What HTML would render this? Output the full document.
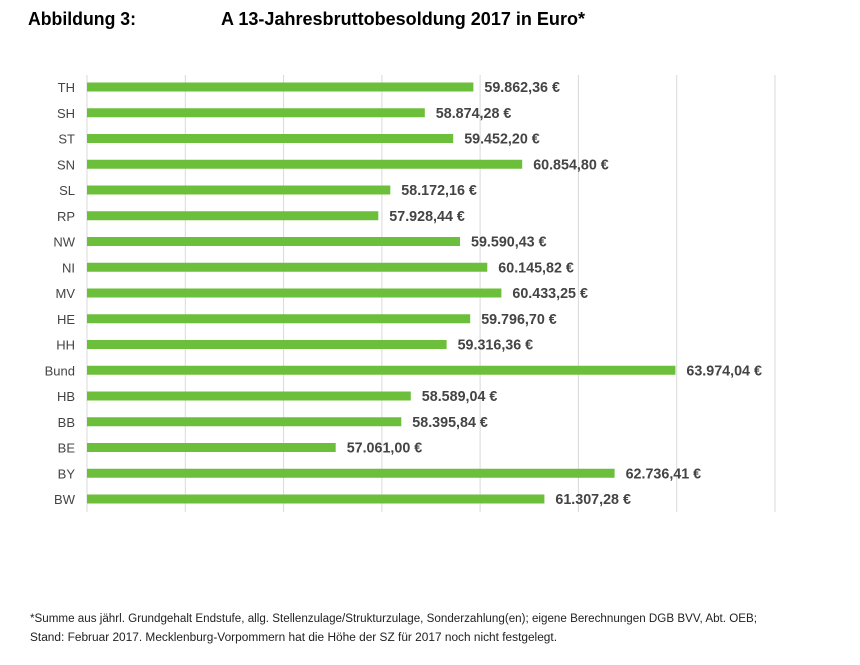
<!DOCTYPE html>
<html><head><meta charset="utf-8"><style>
body{margin:0;background:#fff;width:860px;height:660px;overflow:hidden;font-family:"Liberation Sans",sans-serif}
</style></head><body>
<svg width="860" height="660" xmlns="http://www.w3.org/2000/svg" font-family="Liberation Sans, sans-serif">
<text x="28" y="25" font-size="18" font-weight="bold" fill="#000" textLength="108" lengthAdjust="spacingAndGlyphs">Abbildung 3:</text>
<text x="221" y="25" font-size="18" font-weight="bold" fill="#000" textLength="364" lengthAdjust="spacingAndGlyphs">A 13-Jahresbruttobesoldung 2017 in Euro*</text>
<g stroke="#d9d9d9" stroke-width="1">
<line x1="87" y1="75" x2="87" y2="512"/><line x1="185.3" y1="75" x2="185.3" y2="512"/><line x1="283.6" y1="75" x2="283.6" y2="512"/><line x1="381.9" y1="75" x2="381.9" y2="512"/><line x1="480.1" y1="75" x2="480.1" y2="512"/><line x1="578.4" y1="75" x2="578.4" y2="512"/><line x1="676.7" y1="75" x2="676.7" y2="512"/><line x1="775" y1="75" x2="775" y2="512"/>
</g>
<g fill="#6cbf3a" id="bars"></g>
<g id="labels"></g>
<text x="30" y="622" font-size="11.5" fill="#222" textLength="727" lengthAdjust="spacingAndGlyphs">*Summe aus jährl. Grundgehalt Endstufe, allg. Stellenzulage/Strukturzulage, Sonderzahlung(en); eigene Berechnungen DGB BVV, Abt. OEB;</text>
<text x="30" y="641" font-size="11.5" fill="#222" textLength="527" lengthAdjust="spacingAndGlyphs">Stand: Februar 2017. Mecklenburg-Vorpommern hat die Höhe der SZ für 2017 noch nicht festgelegt.</text>
<script>
var d=[["TH",473.4,"59.862,36 €"],["SH",424.8,"58.874,28 €"],["ST",453.2,"59.452,20 €"],["SN",522.2,"60.854,80 €"],["SL",390.3,"58.172,16 €"],["RP",378.3,"57.928,44 €"],["NW",460.0,"59.590,43 €"],["NI",487.3,"60.145,82 €"],["MV",501.4,"60.433,25 €"],["HE",470.2,"59.796,70 €"],["HH",446.6,"59.316,36 €"],["Bund",675.4,"63.974,04 €"],["HB",410.8,"58.589,04 €"],["BB",401.3,"58.395,84 €"],["BE",335.7,"57.061,00 €"],["BY",614.6,"62.736,41 €"],["BW",544.4,"61.307,28 €"]];
var ns="http://www.w3.org/2000/svg",b=document.getElementById("bars"),l=document.getElementById("labels");
d.forEach(function(r,i){var y=87+i*25.75;
var e=document.createElementNS(ns,"rect");e.setAttribute("x",87);e.setAttribute("y",y-4.5);e.setAttribute("width",r[1]-87);e.setAttribute("height",9);b.appendChild(e);
var t=document.createElementNS(ns,"text");t.setAttribute("x",75);t.setAttribute("y",y+5);t.setAttribute("text-anchor","end");t.setAttribute("font-size","13");t.setAttribute("fill","#444");t.textContent=r[0];l.appendChild(t);
var v=document.createElementNS(ns,"text");v.setAttribute("x",r[1]+11);v.setAttribute("y",y+5);v.setAttribute("font-size","14.3");v.setAttribute("font-weight","bold");v.setAttribute("fill","#444");v.textContent=r[2];l.appendChild(v);});
</script>
</svg>
</body></html>
